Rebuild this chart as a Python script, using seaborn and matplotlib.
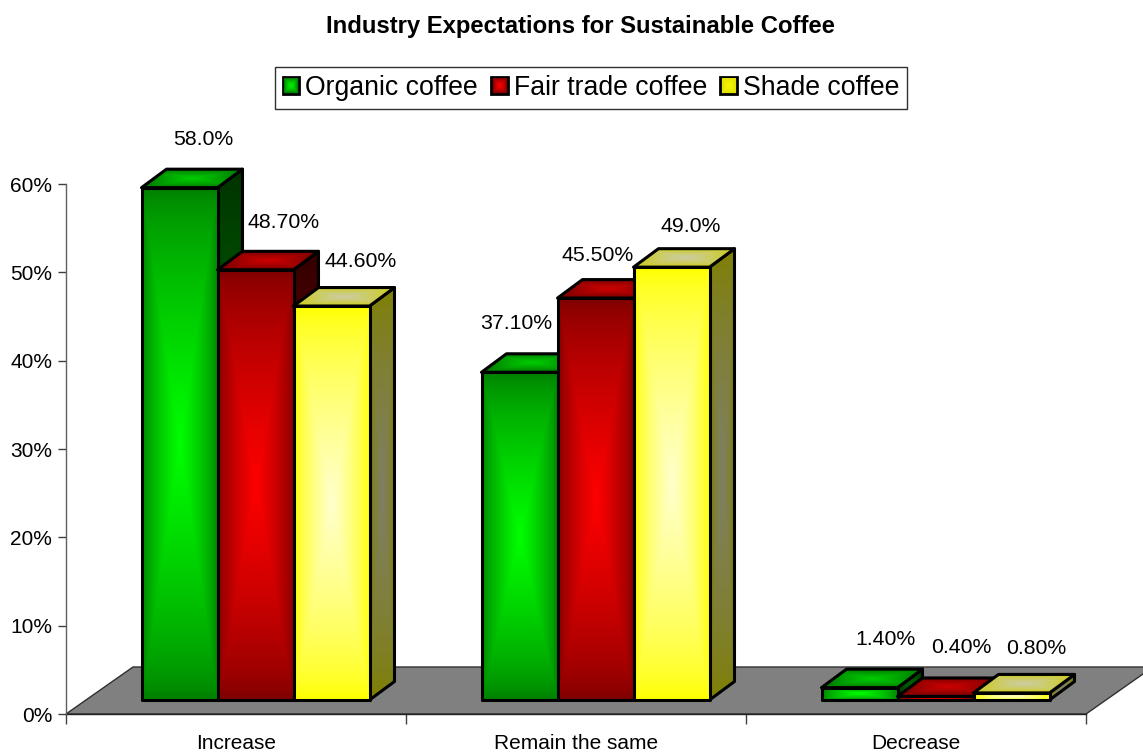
import numpy as np
import pandas as pd
import matplotlib
matplotlib.use("Agg")
import matplotlib.pyplot as plt
from matplotlib.image import BboxImage
from matplotlib.patches import Patch, Polygon
from matplotlib.ticker import FuncFormatter
from matplotlib.transforms import Bbox
import seaborn as sns

# values
categories = ["Increase", "Remain the same", "Decrease"]
series = ["Organic coffee", "Fair trade coffee", "Shade coffee"]
organic = [58.0, 37.1, 1.4]
fair_trade = [48.7, 45.5, 0.4]
shade = [44.6, 49.0, 0.8]
organic_labels = ["58.0%", "37.10%", "1.40%"]
fair_trade_labels = ["48.70%", "45.50%", "0.40%"]
shade_labels = ["44.60%", "49.0%", "0.80%"]

# colours per series: edge of the gradient, centre of the gradient
edge_colors = [(0, 128, 0), (128, 0, 0), (255, 255, 0)]
centre_colors = [(0, 255, 0), (255, 0, 0), (255, 255, 205)]
side_scales = [0.38, 0.38, 0.5]
legend_edges = [(0, 130, 0), (130, 0, 0), (225, 225, 0)]
legend_centres = [(0, 245, 0), (255, 0, 0), (245, 245, 0)]
legend_palette = [tuple(v / 255 for v in c) for c in legend_centres]

# layout in pixels of the 1143x753 picture
W, H = 1143, 753
AX_LEFT, AX_RIGHT, AX_BOTTOM, AX_TOP = 66, 1086, 714, 184
PX_X = (AX_RIGHT - AX_LEFT) / 3  # pixels per category
PX_Y = (AX_BOTTOM - AX_TOP) / 60  # pixels per percent
BAR_SHIFT = (19.5 / PX_X, 14 / PX_Y)  # bars stand inside the floor
BAR_DEPTH = (25 / PX_X, 18.5 / PX_Y)
FLOOR_DEPTH = (67 / PX_X, 47 / PX_Y)
# label offset from the bar's top centre, per series then category
organic_offsets = [(24, 48), (-3, 49), (26, 48)]
fair_trade_offsets = [(28, 47), (2, 43), (26, 49)]
shade_offsets = [(29, 45), (19, 41), (25, 44)]

sns.set_theme(style="white")
plt.rcParams["font.family"] = ["Liberation Sans", "DejaVu Sans"]


def gradient(edge, centre, scale=1.0, n=80):
    """Path style gradient: edge colour outside, centre colour in the middle."""
    edge = np.array(edge) / 255 * scale
    centre = np.array(centre) / 255 * scale
    ramp = 1 - np.abs(np.linspace(-1, 1, n))
    mix = np.minimum.outer(ramp, ramp)[:, :, None] ** 0.7
    return edge + (centre - edge) * mix


def add_face(ax, verts, img, z):
    """Put a gradient into a polygon and outline it in black."""
    xs, ys = zip(*verts)
    im = ax.imshow(img, extent=[min(xs), max(xs), min(ys), max(ys)], aspect="auto",
                   interpolation="bilinear", zorder=z)
    poly = Polygon(verts, closed=True, facecolor="none", edgecolor="black",
                   linewidth=2.2, joinstyle="round", clip_on=False, zorder=z + 0.1)
    ax.add_patch(poly)
    im.set_clip_path(poly)
    im.set_clip_box(ax.figure.bbox)


df = pd.DataFrame({
    "category": categories * 3,
    "series": np.repeat(series, 3),
    "value": organic + fair_trade + shade,
})
labels_by_series = [organic_labels, fair_trade_labels, shade_labels]
offsets_by_series = [organic_offsets, fair_trade_offsets, shade_offsets]

fig, ax = plt.subplots(figsize=(W / 100, H / 100), dpi=100)
ax.set_position([AX_LEFT / W, 1 - AX_BOTTOM / H, (AX_RIGHT - AX_LEFT) / W, (AX_BOTTOM - AX_TOP) / H])

sns.barplot(data=df, x="category", y="value", hue="series", palette=legend_palette,
            width=228 / PX_X, gap=0, legend=False, ax=ax)

# left to right: later bars cover the side faces of earlier ones
bars = sorted(ax.patches, key=lambda p: p.get_x())
dx, dy = BAR_DEPTH

for i, bar in enumerate(bars):
    cat_idx, s_idx = i // 3, i % 3
    edge, centre = edge_colors[s_idx], centre_colors[s_idx]
    z = 3 + i
    x0 = bar.get_x() + BAR_SHIFT[0]
    x1 = x0 + bar.get_width()
    y0 = BAR_SHIFT[1]
    y1 = y0 + bar.get_height()
    add_face(ax, [(x1, y0), (x1 + dx, y0 + dy), (x1 + dx, y1 + dy), (x1, y1)],
             gradient(edge, centre, side_scales[s_idx]), z)
    add_face(ax, [(x0, y1), (x1, y1), (x1 + dx, y1 + dy), (x0 + dx, y1 + dy)], gradient(edge, centre, 0.8), z + 0.2)
    add_face(ax, [(x0, y0), (x1, y0), (x1, y1), (x0, y1)], gradient(edge, centre), z + 0.4)
    bar.set_visible(False)

    ax.annotate(labels_by_series[s_idx][cat_idx], xy=((x0 + x1) / 2, y1),
                xytext=offsets_by_series[s_idx][cat_idx], textcoords="offset pixels",
                ha="center", va="center", fontsize=15.3, color="black",
                annotation_clip=False, zorder=50)

# grey floor behind the bars
ax.add_patch(Polygon([(-0.5, 0), (2.5, 0), (2.5 + FLOOR_DEPTH[0], FLOOR_DEPTH[1]), (-0.5 + FLOOR_DEPTH[0], FLOOR_DEPTH[1])],
                     closed=True, facecolor="#808080", edgecolor="#303030", linewidth=1,
                     clip_on=False, zorder=1))

ax.set_xlim(-0.5, 2.5)
ax.set_ylim(0, 60)
ax.set_xlabel("")
ax.set_ylabel("")
ax.set_yticks(range(0, 61, 10))
ax.yaxis.set_major_formatter(FuncFormatter(lambda v, _: f"{v:.0f}%"))
ax.set_xticks([-0.5, 0.5, 1.5, 2.5], minor=True)
ax.tick_params(axis="y", left=True, length=6, width=1, color="#404040", labelsize=15, pad=4, labelcolor="black")
ax.tick_params(axis="x", which="major", bottom=False, labelsize=15, pad=8.5, labelcolor="black")
ax.tick_params(axis="x", which="minor", bottom=True, length=7.5, width=1, color="#404040")

sns.despine(ax=ax)
ax.spines["left"].set_color("#606060")
ax.spines["left"].set_linewidth(1)
ax.spines["bottom"].set_color("#202020")
ax.spines["bottom"].set_linewidth(1)
ax.spines["bottom"].set_zorder(2)

handles = [Patch(facecolor=c, edgecolor="black", linewidth=2) for c in legend_palette]
leg = ax.legend(handles, series, ncol=3, loc="center", bbox_to_anchor=(591 / W, 1 - 88 / H),
                bbox_transform=fig.transFigure, fontsize=19.2, frameon=True, fancybox=False,
                framealpha=1, edgecolor="#303030", labelcolor="black", handlelength=0.62,
                handleheight=0.62, handletextpad=0.22, columnspacing=0.5, borderpad=0.3,
                borderaxespad=0)
leg.get_frame().set_linewidth(1)
leg.set_zorder(60)

# gradient into the legend swatches
fig.canvas.draw()
for k, handle in enumerate(leg.get_patches()):
    box = handle.get_window_extent()
    inner = Bbox.from_extents(box.x0 + 1.5, box.y0 + 1.5, box.x1 - 1.5, box.y1 - 1.5)
    swatch = BboxImage(inner, zorder=70, interpolation="bilinear")
    swatch.set_data(gradient(legend_edges[k], legend_centres[k], n=12))
    fig.add_artist(swatch)

fig.text(580 / W, 1 - 26 / H, "Industry Expectations for Sustainable Coffee", ha="center", va="center",
         fontsize=17.2, fontweight="bold", color="black")

fig.savefig("out.png", dpi=100)
plt.close(fig)
